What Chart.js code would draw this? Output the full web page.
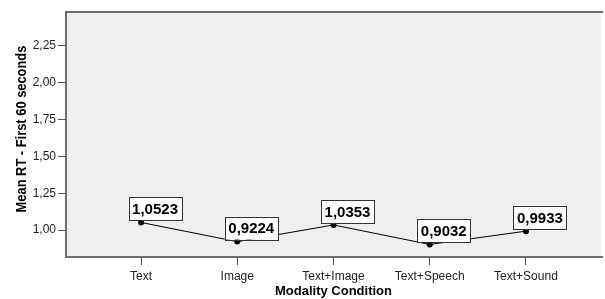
<!DOCTYPE html>
<html>
<head>
<meta charset="utf-8">
<script src="https://cdn.jsdelivr.net/npm/chart.js@4"></script>
<style>
  html, body { margin: 0; padding: 0; background: #fff; }
  #wrap { width: 605px; height: 299px; }
</style>
</head>
<body>
<div id="wrap"><canvas id="myChart" width="605" height="299"></canvas></div>
<script>
const categories = ["Text", "Image", "Text+Image", "Text+Speech", "Text+Sound"];
const meanRT = [1.0523, 0.9224, 1.0353, 0.9032, 0.9933];
const yTicks = [1.00, 1.25, 1.50, 1.75, 2.00, 2.25];
const yTitle = "Mean RT - First 60 seconds";
const xTitle = "Modality Condition";

const fmt = (v, d) => v.toFixed(d).replace(".", ",");

// plot background + border
const plotFrame = {
  id: "plotFrame",
  beforeDraw(chart) {
    const { ctx, chartArea: a } = chart;
    ctx.save();
    ctx.fillStyle = "#efefef";
    ctx.fillRect(a.left, a.top, a.right - a.left, a.bottom - a.top);
    ctx.strokeStyle = "#6e6e6e";
    ctx.lineWidth = 2;
    ctx.beginPath();
    ctx.moveTo(a.right + 2, a.top);
    ctx.lineTo(a.left, a.top);
    ctx.lineTo(a.left, a.bottom);
    ctx.lineTo(a.right + 2, a.bottom);
    ctx.stroke();
    ctx.restore();
  },
  afterDraw(chart) {
    // y axis title, a little condensed like the original
    const { ctx } = chart;
    ctx.save();
    ctx.translate(22, 129);
    ctx.rotate(-Math.PI / 2);
    ctx.scale(0.92, 1);
    ctx.font = "bold 14px 'Liberation Sans', Arial, sans-serif";
    ctx.fillStyle = "#000";
    ctx.textAlign = "center";
    ctx.textBaseline = "middle";
    ctx.fillText(yTitle, 0, 0);
    ctx.restore();
  },
};

// boxed value labels
const valueBoxes = {
  id: "valueBoxes",
  afterDatasetsDraw(chart) {
    const { ctx } = chart;
    const meta = chart.getDatasetMeta(0);
    ctx.save();
    ctx.font = "bold 15px 'Liberation Sans', Arial, sans-serif";
    ctx.textAlign = "center";
    ctx.textBaseline = "middle";
    meta.data.forEach((pt, i) => {
      const txt = fmt(meanRT[i], 4);
      const w = 53, h = 23;
      const cx = pt.x + 14;
      const bottom = pt.y - 2;
      ctx.fillStyle = "#fff";
      ctx.fillRect(cx - w / 2, bottom - h, w, h);
      ctx.strokeStyle = "#333";
      ctx.lineWidth = 1;
      ctx.strokeRect(Math.round(cx - w / 2) + 0.5, Math.round(bottom - h) + 0.5, w, h);
      ctx.fillStyle = "#000";
      ctx.fillText(txt, cx, bottom - h / 2 + 1);
    });
    ctx.restore();
  },
};

const ctx = document.getElementById("myChart").getContext("2d");

const config = {
  type: "line",
  data: {
    datasets: [
      {
        data: meanRT.map((v, i) => ({ x: i, y: v })),
        borderColor: "#000",
        borderWidth: 1,
        pointRadius: 3,
        pointBackgroundColor: "#000",
        pointBorderWidth: 0,
        tension: 0,
      },
    ],
  },
  plugins: [plotFrame, valueBoxes],
  options: {
    responsive: false,
    animation: false,
    layout: { padding: { top: 12, right: 0, left: 0, bottom: 0 } },
    plugins: {
      legend: { display: false },
      tooltip: { enabled: false },
    },
    scales: {
      x: {
        type: "linear",
        min: -0.78,
        max: 4.78,
        afterBuildTicks(scale) {
          scale.ticks = categories.map((c, i) => ({ value: i }));
        },
        afterFit(scale) { scale.height = 42; },
        grid: {
          display: true,
          drawOnChartArea: false,
          drawTicks: true,
          tickLength: 8,
          color: "#555",
          lineWidth: 1,
        },
        border: { display: false },
        ticks: {
          autoSkip: false,
          maxRotation: 0,
          padding: 4,
          color: "#222",
          font: { family: "'Liberation Sans', Arial, sans-serif", size: 12 },
          callback: (v) => categories[v],
        },
        title: {
          display: true,
          text: xTitle,
          color: "#000",
          padding: { top: 0, bottom: 0 },
          font: { family: "'Liberation Sans', Arial, sans-serif", size: 13, weight: "bold" },
        },
      },
      y: {
        min: 0.818,
        max: 2.48,
        afterBuildTicks(scale) {
          scale.ticks = yTicks.map((v) => ({ value: v }));
        },
        afterFit(scale) { scale.width = 66; },
        grid: {
          display: true,
          drawOnChartArea: false,
          drawTicks: true,
          tickLength: 8,
          color: "#555",
          lineWidth: 1,
        },
        border: { display: false },
        ticks: {
          padding: 2,
          color: "#222",
          font: { family: "'Liberation Sans', Arial, sans-serif", size: 12 },
          callback: (v) => fmt(v, 2),
        },
      },
    },
  },
};

const myChart = new Chart(ctx, config);
</script>
</body>
</html>
